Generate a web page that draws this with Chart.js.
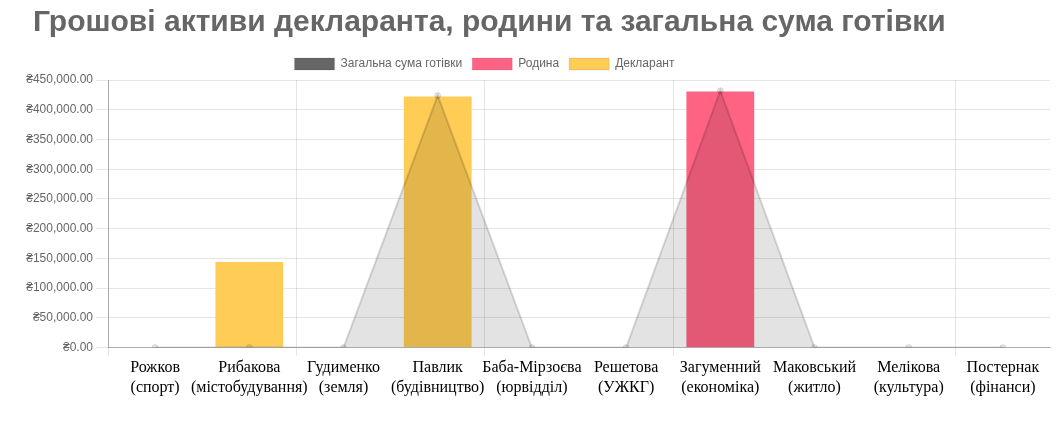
<!DOCTYPE html>
<html>
<head>
<meta charset="utf-8">
<script src="https://cdn.jsdelivr.net/npm/chart.js@4"></script>
<style>
  body { margin: 0; background: #fff; }
  #wrap { width: 1059px; height: 421px; position: relative; }
</style>
</head>
<body>
<div id="wrap"><canvas id="cashChart"></canvas></div>
<script>
const names = ["Рожков", "Рибакова", "Гудименко", "Павлик", "Баба-Мірзоєва", "Решетова", "Загуменний", "Маковський", "Мелікова", "Постернак"];
const depts = ["спорт", "містобудування", "земля", "будівництво", "юрвідділ", "УЖКГ", "економіка", "житло", "культура", "фінанси"];

const totalCash = [0, 0, 0, 423800, 0, 0, 432000, 0, 0, 0];
const family    = [0, 0, 0, 0, 0, 0, 430500, 0, 0, 0];
const declarant = [0, 143800, 0, 422200, 0, 0, 0, 0, 0, 0];

const yTicks = { min: 0, max: 450000, step: 50000 };
const gridShown = [0, 2, 4, 6, 9]; // vertical grid lines that show in the original

const labels = names.map((n, i) => [n, "(" + depts[i] + ")"]);

Chart.defaults.font.family = "Arial, 'Liberation Sans', sans-serif";
Chart.defaults.color = "#666";

// legend a bit left of centre, title a bit in from the edge, like the original
const nudge = {
    id: "nudge",
    afterLayout(chart) {
        chart.legend.left -= 53;
        chart.legend.right -= 53;
        chart.titleBlock.left += 8;
        chart.titleBlock.right += 8;
    }
};

const ctx = document.getElementById("cashChart").getContext("2d");

new Chart(ctx, {
    type: "bar",
    data: {
        labels: labels,
        datasets: [
            {
                type: "line",
                label: "Загальна сума готівки",
                data: totalCash,
                borderColor: "rgba(0, 0, 0, 0.15)",
                backgroundColor: "rgba(0, 0, 0, 0.11)",
                borderWidth: 2,
                fill: "origin",
                tension: 0,
                pointRadius: 3,
                pointBorderWidth: 1,
                pointBackgroundColor: "rgba(0, 0, 0, 0.1)",
                pointBorderColor: "rgba(0, 0, 0, 0.1)"
            },
            {
                label: "Родина",
                data: family,
                backgroundColor: "#ff6384",
                borderWidth: 0
            },
            {
                label: "Декларант",
                data: declarant,
                backgroundColor: "#ffcd56",
                borderWidth: 0
            }
        ]
    },
    options: {
        responsive: true,
        maintainAspectRatio: false,
        animation: false,
        layout: {
            padding: { left: 25, right: 9, top: 0, bottom: 21 }
        },
        plugins: {
            title: {
                display: true,
                text: "Грошові активи декларанта, родини та загальна сума готівки",
                align: "start",
                color: "#666",
                font: { size: 30, weight: "bold" },
                padding: { top: 5, bottom: 7 }
            },
            legend: {
                position: "top",
                labels: {
                    boxWidth: 40,
                    font: { size: 12 },
                    generateLabels: (chart) => {
                        const items = Chart.defaults.plugins.legend.labels.generateLabels(chart);
                        items[0].fillStyle = "#666";
                        items.forEach(it => {
                            it.strokeStyle = "rgba(0, 0, 0, 0.1)";
                            it.lineWidth = 1;
                        });
                        return items;
                    }
                }
            },
            tooltip: { enabled: false }
        },
        scales: {
            x: {
                stacked: true,
                grid: {
                    offset: true,
                    color: (c) => gridShown.includes(c.index) ? "rgba(0, 0, 0, 0.1)" : "rgba(0, 0, 0, 0)"
                },
                border: { color: "rgba(0, 0, 0, 0.25)" },
                ticks: {
                    color: "#000",
                    maxRotation: 0,
                    autoSkip: false,
                    font: { family: "'Times New Roman', 'Liberation Serif', serif", size: 16 }
                }
            },
            y: {
                min: yTicks.min,
                max: yTicks.max,
                afterFit: (axis) => { axis.width = 83; },
                grid: { color: "rgba(0, 0, 0, 0.1)", tickLength: 12 },
                border: { color: "rgba(0, 0, 0, 0.25)" },
                ticks: {
                    stepSize: yTicks.step,
                    font: { size: 12 },
                    callback: (v) => "₴" + v.toLocaleString("en-US", { minimumFractionDigits: 2, maximumFractionDigits: 2 })
                }
            }
        }
    },
    plugins: [nudge]
});
</script>
</body>
</html>
